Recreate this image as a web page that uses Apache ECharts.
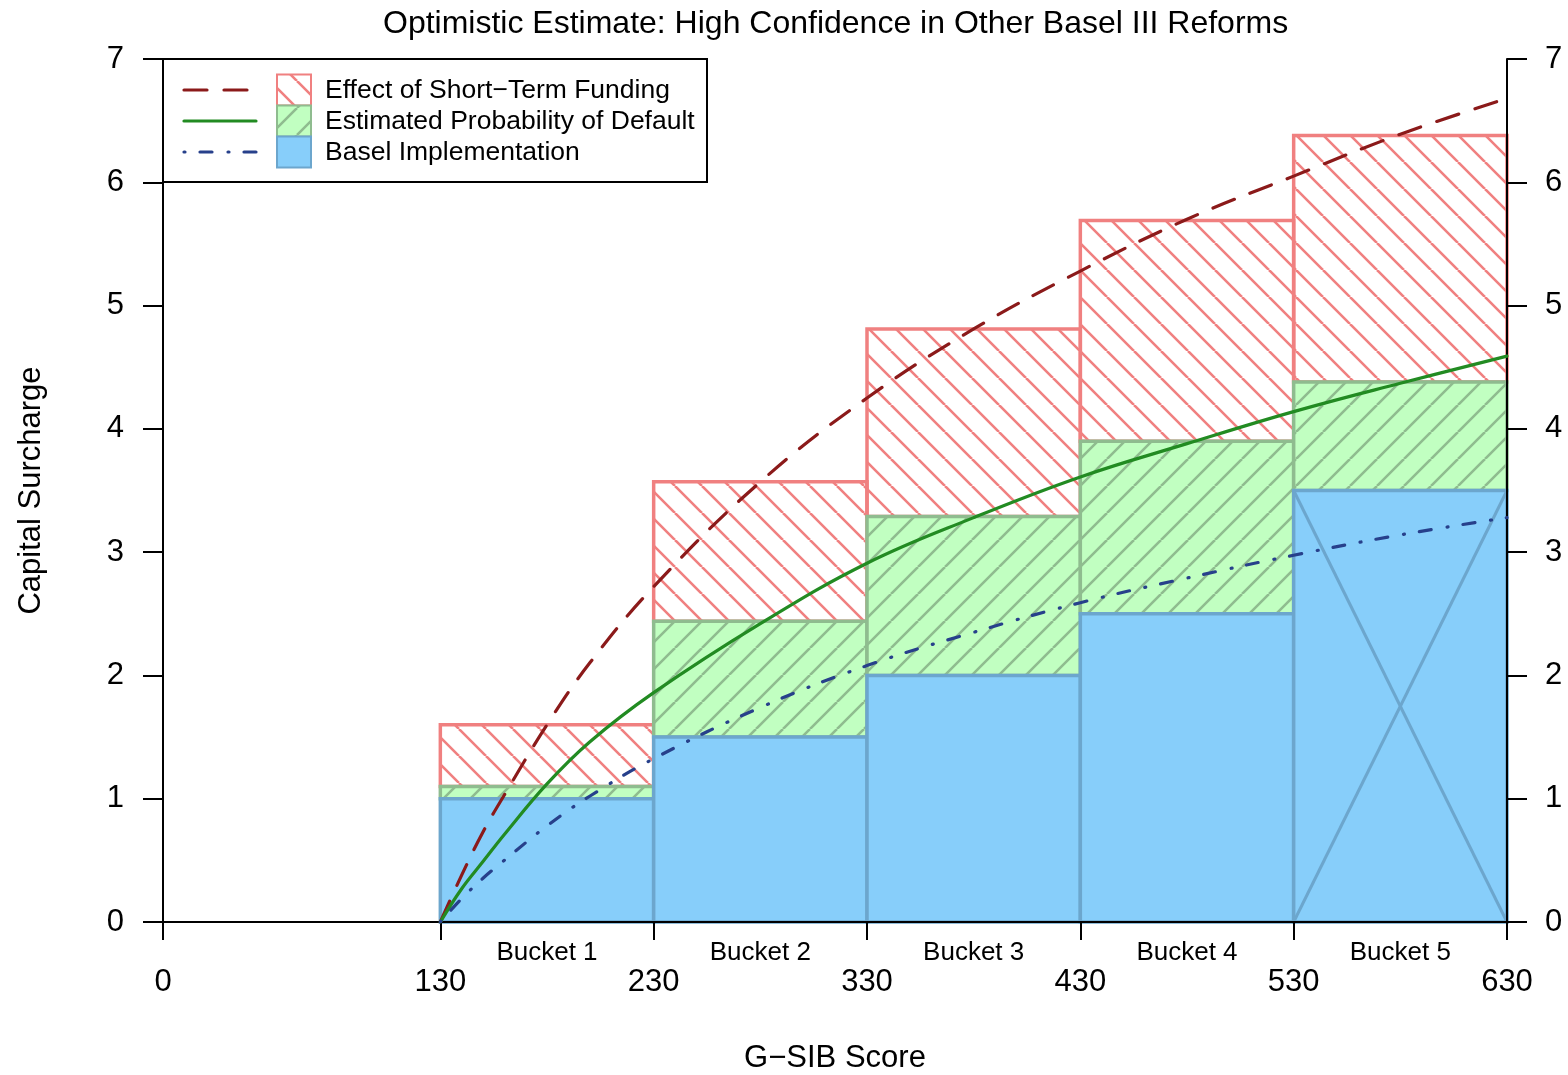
<!DOCTYPE html>
<html>
<head>
<meta charset="utf-8">
<script src="https://cdn.jsdelivr.net/npm/echarts@6/dist/echarts.min.js"></script>
<style>
  html, body { margin: 0; padding: 0; background: #ffffff; }
  #chart { width: 1568px; height: 1075px; }
</style>
</head>
<body>
<div id="chart"></div>
<script>
// G-SIB score buckets and the capital surcharge levels stacked in each bucket
const bucketEdges = [130, 230, 330, 430, 530, 630];
const bucketNames = ['Bucket 1', 'Bucket 2', 'Bucket 3', 'Bucket 4', 'Bucket 5'];
const baselLevel = [1.0, 1.5, 2.0, 2.5, 3.5];
const pdLevel = [1.1, 2.44, 3.29, 3.9, 4.38];
const stfLevel = [1.6, 3.57, 4.81, 5.69, 6.38];
const bucketCrossed = [false, false, false, false, true];

// Continuous surcharge curves sampled along the score axis
const curveScores = [130, 140, 150, 160, 180, 200, 230, 280, 330, 380, 430, 480, 530, 580, 630];
const stfCurve = [0, 0.38, 0.73, 1.03, 1.60, 2.10, 2.72, 3.57, 4.25, 4.81, 5.28, 5.70, 6.05, 6.39, 6.68];
const pdCurve = [0, 0.27, 0.49, 0.71, 1.12, 1.46, 1.86, 2.42, 2.91, 3.28, 3.61, 3.88, 4.14, 4.37, 4.59];
const baselCurve = [0, 0.19, 0.355, 0.50, 0.78, 1.02, 1.325, 1.74, 2.08, 2.35, 2.59, 2.79, 2.975, 3.14, 3.28];

// Axis ticks
const xTicks = [0, 130, 230, 330, 430, 530, 630];
const yMin = 0, yMax = 7, yStep = 1;

// Legend entries
const legendLabels = ['Effect of Short\u2212Term Funding', 'Estimated Probability of Default', 'Basel Implementation'];

const FONT = "'Liberation Sans', Arial, Helvetica, sans-serif";
const C = {
  stfLine: '#8B1A1A', stfHatch: '#F08080',
  pdLine: '#228B22', pdFill: '#C1FFC1', pdHatch: '#8FBC8F',
  baselLine: '#27408B', baselFill: '#87CEFA', baselEdge: '#6CA6CD'
};

function hatch(dir, lineColor, bg) {
  const P = 27;
  const cv = document.createElement('canvas');
  cv.width = P; cv.height = P;
  const g = cv.getContext('2d');
  if (bg) { g.fillStyle = bg; g.fillRect(0, 0, P, P); }
  g.strokeStyle = lineColor;
  g.lineWidth = 2.6;
  g.beginPath();
  for (let k = -1; k <= 1; k++) {
    if (dir === 'down') { g.moveTo(k * P, 0); g.lineTo(k * P + P, P); }
    else { g.moveTo(k * P, P); g.lineTo(k * P + P, 0); }
  }
  g.stroke();
  return { image: cv, repeat: 'repeat' };
}

const zeros = bucketNames.map(() => 0);
const bucketCenters = bucketNames.map((n, i) => (bucketEdges[i] + bucketEdges[i + 1]) / 2);

function layer(name, lower, upper, fill, stroke, crossed) {
  return {
    type: 'custom',
    name: name,
    silent: true,
    data: bucketNames.map((n, i) => [bucketEdges[i], bucketEdges[i + 1], lower[i], upper[i]]),
    encode: { x: [0, 1], y: [2, 3] },
    renderItem: function (params, api) {
      const a = api.coord([api.value(0), api.value(3)]);
      const b = api.coord([api.value(1), api.value(2)]);
      const children = [{
        type: 'rect',
        shape: { x: a[0], y: a[1], width: b[0] - a[0], height: b[1] - a[1] },
        style: { fill: fill, stroke: stroke, lineWidth: 3.5 }
      }];
      if (crossed && crossed[params.dataIndex]) {
        children.push({ type: 'line', shape: { x1: a[0], y1: a[1], x2: b[0], y2: b[1] },
          style: { stroke: stroke, lineWidth: 3 } });
        children.push({ type: 'line', shape: { x1: a[0], y1: b[1], x2: b[0], y2: a[1] },
          style: { stroke: stroke, lineWidth: 3 } });
      }
      return { type: 'group', children: children };
    }
  };
}

function curve(name, ys, color, dash) {
  return {
    type: 'line',
    name: name,
    data: curveScores.map((x, i) => [x, ys[i]]),
    showSymbol: false,
    symbol: 'none',
    smooth: 0.4,
    silent: true,
    z: 6,
    lineStyle: { color: color, width: 3.2, type: dash, cap: 'round' }
  };
}

// Legend drawn as a boxed key: line sample, patch and label per row
const legendRows = [90, 121, 152];
const legendSpec = [
  { line: C.stfLine, dash: [23, 17], fill: hatch('down', C.stfHatch, null), edge: C.stfHatch },
  { line: C.pdLine, dash: null, fill: hatch('up', C.pdHatch, C.pdFill), edge: C.pdHatch },
  { line: C.baselLine, dash: [1, 15, 12, 16], fill: C.baselFill, edge: C.baselEdge }
];
const legendGraphics = [{
  type: 'rect', z: 20,
  shape: { x: 163, y: 59, width: 544, height: 123 },
  style: { fill: '#ffffff', stroke: '#000000', lineWidth: 2 }
}];
legendSpec.forEach((s, i) => {
  const cy = legendRows[i];
  legendGraphics.push({
    type: 'line', z: 21,
    shape: { x1: 184, y1: cy, x2: 256, y2: cy },
    style: { stroke: s.line, lineWidth: 3.2, lineDash: s.dash, lineCap: 'round' }
  });
  legendGraphics.push({
    type: 'rect', z: 21,
    shape: { x: 277, y: cy - 15.5, width: 34, height: 31 },
    style: { fill: s.fill, stroke: s.edge, lineWidth: 2 }
  });
  legendGraphics.push({
    type: 'text', z: 21, x: 325, y: cy + 1,
    style: { text: legendLabels[i], font: '26.5px ' + FONT, fill: '#000000',
      textAlign: 'left', textVerticalAlign: 'middle' }
  });
});

const chart = echarts.init(document.getElementById('chart'), null, { renderer: 'canvas' });
const axisLineStyle = { color: '#000000', width: 2 };
const yLabelStyle = { fontSize: 31, color: '#000000', fontFamily: FONT, padding: [5, 0, 0, 0] };
chart.setOption({
  animation: false,
  backgroundColor: '#ffffff',
  title: {
    text: 'Optimistic Estimate: High Confidence in Other Basel III Reforms',
    left: 378, top: 3,
    textStyle: { fontFamily: FONT, fontSize: 32, fontWeight: 'normal', color: '#000000' }
  },
  grid: { left: 163, right: 61, top: 59, bottom: 153, containLabel: false, outerBoundsMode: 'none' },
  xAxis: [{
    type: 'value', min: 0, max: 630, position: 'bottom', z: 5,
    axisLine: { show: true, onZero: false, lineStyle: axisLineStyle },
    axisTick: { show: true, customValues: xTicks, length: 18, lineStyle: axisLineStyle },
    axisLabel: { customValues: xTicks, margin: 45, fontSize: 31, color: '#000000', fontFamily: FONT },
    splitLine: { show: false },
    name: 'G\u2212SIB Score', nameLocation: 'middle', nameGap: 121,
    nameTextStyle: { fontSize: 31, color: '#000000', fontFamily: FONT }
  }, {
    type: 'value', min: 0, max: 630, position: 'bottom',
    axisLine: { show: false }, axisTick: { show: false }, splitLine: { show: false },
    axisLabel: {
      customValues: bucketCenters, margin: 18, fontSize: 26, color: '#000000', fontFamily: FONT,
      formatter: v => bucketNames[bucketCenters.indexOf(v)] || ''
    }
  }],
  yAxis: [{
    type: 'value', min: yMin, max: yMax, interval: yStep, position: 'left', z: 5,
    axisLine: { show: true, onZero: false, lineStyle: axisLineStyle },
    axisTick: { show: true, length: 20, lineStyle: axisLineStyle },
    axisLabel: Object.assign({ margin: 39 }, yLabelStyle),
    splitLine: { show: false },
    name: 'Capital Surcharge', nameLocation: 'middle', nameGap: 116, nameRotate: 90,
    nameTextStyle: { fontSize: 31, color: '#000000', fontFamily: FONT }
  }, {
    type: 'value', min: yMin, max: yMax, interval: yStep, position: 'right', z: 5,
    axisLine: { show: true, onZero: false, lineStyle: axisLineStyle },
    axisTick: { show: true, length: 20, lineStyle: axisLineStyle },
    axisLabel: Object.assign({ margin: 38 }, yLabelStyle),
    splitLine: { show: false }
  }],
  graphic: legendGraphics,
  series: [
    layer(legendLabels[0], pdLevel, stfLevel, hatch('down', C.stfHatch, null), C.stfHatch, null),
    layer(legendLabels[1], baselLevel, pdLevel, hatch('up', C.pdHatch, C.pdFill), C.pdHatch, null),
    layer(legendLabels[2], zeros, baselLevel, C.baselFill, C.baselEdge, bucketCrossed),
    curve('Short-term funding curve', stfCurve, C.stfLine, [23, 17]),
    curve('Probability of default curve', pdCurve, C.pdLine, 'solid'),
    curve('Basel implementation curve', baselCurve, C.baselLine, [1, 15, 12, 16])
  ]
});
</script>
</body>
</html>
